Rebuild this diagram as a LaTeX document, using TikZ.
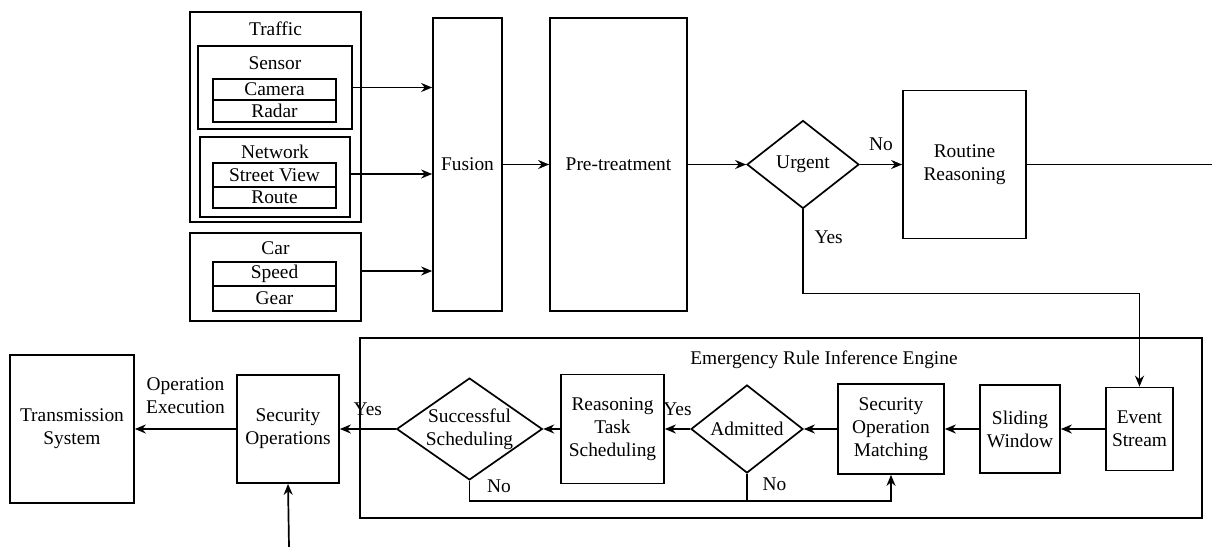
\documentclass[tikz,border=0pt]{standalone}
\usepackage{fontspec}
\setmainfont{LiberationSerif}[Extension=.ttf,UprightFont=*-Regular,BoldFont=*-Bold]
\usetikzlibrary{arrows.meta,shapes.geometric}

\begin{document}
\begin{tikzpicture}[x=0.5pt,y=-0.5pt,
        font=\fontsize{9.7}{11.5}\selectfont,
        box/.style={draw,line width=0.85pt,inner sep=0pt,align=center},
        cond/.style={diamond,draw,line width=0.85pt,inner sep=0pt,align=center},
        arr/.style={line width=0.85pt,-{Stealth[length=5.5pt,width=4.5pt]}},
        ln/.style={line width=0.85pt}]
        \useasboundingbox (0,0) rectangle (1212,547);
        % sources
        \node[box,minimum width=85.5pt,minimum height=105pt] (traffic) at (275.5,117) {};
        \node (traffictxt) at (275.5,29) {Traffic};
        \node[box,minimum width=77pt,minimum height=41.5pt] (sensor) at (275,87.5) {};
        \node (sensortxt) at (275,63) {Sensor};
        \node[box,minimum width=61.5pt,minimum height=10.5pt] (camera) at (274.5,89.5) {Camera};
        \node[box,minimum width=61.5pt,minimum height=11pt] (radar) at (274.5,111) {Radar};
        \node[box,minimum width=75pt,minimum height=40pt] (network) at (275,177) {};
        \node (networktxt) at (275,152) {Network};
        \node[box,minimum width=61.5pt,minimum height=12pt] (street) at (274.5,175) {Street View};
        \node[box,minimum width=61.5pt,minimum height=10.5pt] (route) at (274.5,197.5) {Route};
        \node[box,minimum width=85.5pt,minimum height=44pt] (car) at (275.5,277) {};
        \node (cartxt) at (275.5,248) {Car};
        \node[box,minimum width=61.5pt,minimum height=12pt] (speed) at (274.5,274) {Speed};
        \node[box,minimum width=61.5pt,minimum height=12.5pt] (gear) at (274.5,298.5) {Gear};
        % upper chain
        \node[box,minimum width=34.5pt,minimum height=146.5pt] (fusion) at (467.5,164.5) {Fusion};
        \node[box,minimum width=68.5pt,minimum height=146.5pt] (pretreat) at (618.5,164.5) {Pre-treatment};
        \node[cond,aspect=1.27,minimum width=56pt,minimum height=44pt] (urgent) at (803,164.5) {Urgent};
        \node[box,minimum width=61.5pt,minimum height=74pt] (routine) at (964.5,164.5) {Routine\\Reasoning};
        \coordinate (routineout) at (1212,164.5);
        % inference engine
        \node[box,minimum width=421pt,minimum height=90pt] (engine) at (781,428) {};
        \node (enginetxt) at (824,360) {Emergency Rule Inference Engine};
        \node[box,minimum width=33.5pt,minimum height=41.5pt] (event) at (1139.5,429) {Event\\Stream};
        \node[box,minimum width=40pt,minimum height=44pt] (sliding) at (1020,429) {Sliding\\Window};
        \node[box,minimum width=53pt,minimum height=45pt] (matching) at (891,429) {Security\\Operation\\Matching};
        \node[cond,aspect=1.27,minimum width=56pt,minimum height=44pt] (admitted) at (747,429) {Admitted};
        \node[box,minimum width=51.5pt,minimum height=54.5pt] (task) at (612.5,429) {Reasoning\\Task\\Scheduling};
        \node[cond,aspect=1.43,minimum width=71.5pt,minimum height=50pt] (success) at (469.5,429) {Successful\\Scheduling};
        % outputs
        \node[box,minimum width=51pt,minimum height=54pt] (secops) at (288,429) {Security\\Operations};
        \node[box,minimum width=62pt,minimum height=74pt] (trans) at (72,429) {Transmission\\System};
        \coordinate (secin) at (289,547);
        % connectors
        \draw[arr] (sensor.east) -- (sensor.east -| fusion.west);
        \draw[arr] ([yshift=1.5pt]network.east) -- ([yshift=1.5pt]network.east -| fusion.west);
        \draw[arr] ([yshift=3pt]car.east) -- ([yshift=3pt]car.east -| fusion.west);
        \draw[arr] (fusion) -- (pretreat);
        \draw[arr] (pretreat) -- (urgent);
        \draw[arr] (urgent) -- (routine) node[midway,above=3pt] {No};
        \draw[ln] (routine) -- (routineout);
        \draw[arr] (urgent.south) -- ++(0,84) node[pos=0.33,right=2pt] {Yes} -| (event.north);
        \draw[arr] (event) -- (sliding);
        \draw[arr] (sliding) -- (matching);
        \draw[arr] (matching) -- (admitted);
        \draw[arr] (admitted) -- (task) node[midway,above=3pt] {Yes};
        \draw[arr] (task) -- (success);
        \draw[arr] (success) -- (secops) node[midway,above=3pt] {Yes};
        \draw[arr] (success.south) -- ++(0,20) node[pos=0.25,right=5pt] {No} -| (matching.south);
        \draw[ln] (admitted.south) -- ++(0,27) node[pos=0.4,right=4pt] {No};
        \draw[arr] (secops) -- (trans) node[midway,above=4pt,align=center] {Operation\\Execution};
        \draw[arr] (secin) -- (secops.south);
\end{tikzpicture}
\end{document}
